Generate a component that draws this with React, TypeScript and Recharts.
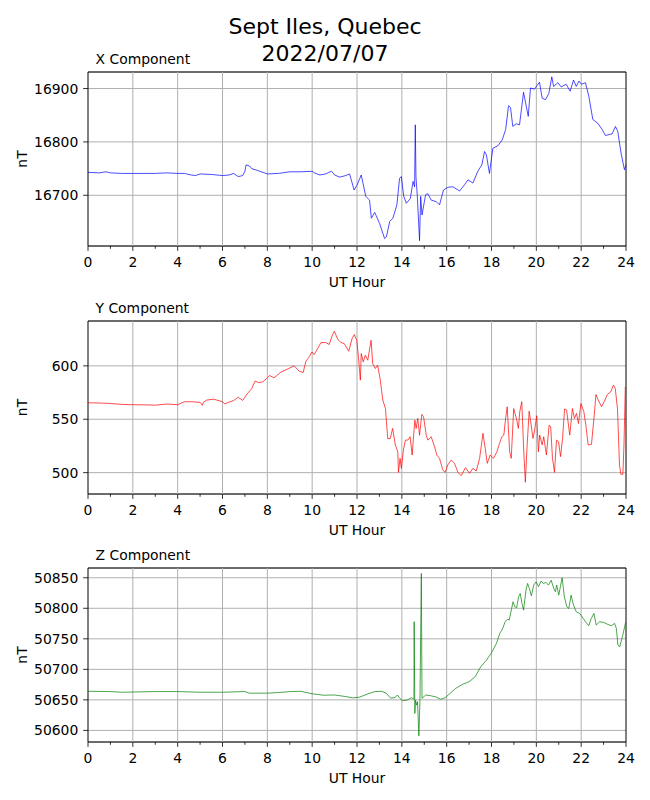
import React from 'react';
import { LineChart, Line, XAxis, YAxis, CartesianGrid, ReferenceArea, ReferenceLine } from 'recharts';

type Pair = [number, number];

// UT hour ticks (labels on even hours, minor ticks on odd hours)
const hourTicks = [0, 1, 2, 3, 4, 5, 6, 7, 8, 9, 10, 11, 12, 13, 14, 15, 16, 17, 18, 19, 20, 21, 22, 23, 24];
const gridHours = [2, 4, 6, 8, 10, 12, 14, 16, 18, 20, 22];

const xTicks = [16700, 16800, 16900];
const yTicks = [500, 550, 600];
const zTicks = [50600, 50650, 50700, 50750, 50800, 50850];

const xDomain = [16605, 16931];
const yDomain = [480, 642];
const zDomain = [50581, 50866];

// [UT hour, nT]
const xComponent: Pair[] = [
  [0, 16743], [0.5, 16742], [0.8, 16744], [1, 16742], [1.5, 16741], [2, 16741], [2.5, 16741], [3, 16741],
  [3.5, 16742], [4, 16741], [4.3, 16741], [4.6, 16738], [4.8, 16737], [5, 16740], [5.5, 16739], [6, 16737],
  [6.3, 16738], [6.5, 16741], [6.7, 16735], [6.9, 16737], [7.0, 16745], [7.05, 16757], [7.2, 16755], [7.3, 16750],
  [7.6, 16746], [8, 16740], [8.5, 16741], [9, 16744], [9.5, 16744], [10, 16745], [10.1, 16742], [10.34, 16738],
  [10.6, 16740], [10.86, 16745], [11.0, 16738], [11.23, 16734], [11.5, 16737], [11.67, 16740], [11.87, 16710],
  [12.0, 16719], [12.19, 16738], [12.39, 16698], [12.56, 16691], [12.64, 16657], [12.79, 16668], [13.01, 16647],
  [13.23, 16619], [13.31, 16622], [13.46, 16651], [13.6, 16657], [13.78, 16682], [13.9, 16732], [13.98, 16735],
  [14.08, 16699], [14.2, 16685], [14.38, 16694], [14.5, 16726], [14.57, 16716], [14.6, 16832], [14.63, 16735],
  [14.69, 16699], [14.79, 16615], [14.84, 16698], [14.9, 16663], [15.06, 16701], [15.16, 16703], [15.31, 16691],
  [15.54, 16688], [15.68, 16682], [15.86, 16710], [16.06, 16715], [16.28, 16716], [16.58, 16708], [16.8, 16720],
  [16.95, 16729], [17.17, 16723], [17.39, 16745], [17.57, 16757], [17.69, 16782], [17.77, 16776], [17.91, 16741],
  [18.06, 16788], [18.29, 16793], [18.48, 16804], [18.63, 16823], [18.76, 16868], [18.85, 16864], [18.95, 16829],
  [19.1, 16834], [19.25, 16832], [19.43, 16893], [19.55, 16867], [19.64, 16848], [19.74, 16901], [19.92, 16899],
  [20.14, 16912], [20.26, 16882], [20.41, 16879], [20.56, 16891], [20.69, 16922], [20.77, 16904], [20.96, 16911],
  [21.11, 16903], [21.33, 16908], [21.51, 16895], [21.66, 16916], [21.78, 16904], [21.9, 16914], [22.01, 16908],
  [22.19, 16911], [22.34, 16886], [22.52, 16842], [22.74, 16835], [22.94, 16823], [23.08, 16812], [23.26, 16814],
  [23.38, 16815], [23.53, 16829], [23.63, 16820], [23.78, 16779], [23.93, 16748], [24, 16757],
];

const yComponent: Pair[] = [
  [0, 565.4], [0.5, 565.2], [1, 564.8], [1.5, 563.9], [2, 563.6], [2.5, 563.5], [3, 563.2], [3.5, 564.2],
  [4, 563.6], [4.3, 566.4], [4.6, 566.4], [5.0, 565.8], [5.1, 563], [5.15, 566], [5.3, 568], [5.6, 568.8],
  [6, 566.4], [6.1, 564.5], [6.5, 567.6], [6.7, 570.7], [6.9, 567.6], [7.1, 573.8], [7.3, 578.5], [7.45, 585.7],
  [7.6, 584.4], [7.8, 585], [8, 588.8], [8.1, 591], [8.3, 588.8], [8.6, 594], [9, 598], [9.2, 600], [9.42, 595],
  [9.6, 593.8], [9.72, 604.4], [9.84, 607.5], [9.99, 613], [10.09, 610.6], [10.24, 616], [10.39, 621.8],
  [10.61, 621.8], [10.76, 620], [10.91, 629.3], [10.99, 632.4], [11.14, 625], [11.28, 621.8], [11.43, 620.9],
  [11.63, 613.7], [11.78, 625.5], [11.88, 629.3], [11.99, 624], [12.07, 606.9], [12.15, 586.6], [12.19, 611.5],
  [12.28, 603.7], [12.37, 610], [12.48, 605.3], [12.63, 624], [12.7, 602], [12.82, 597.5], [12.92, 600.6],
  [13.03, 588], [13.15, 568], [13.27, 560], [13.37, 532], [13.48, 532], [13.59, 541.4], [13.71, 525.9],
  [13.82, 519.6], [13.85, 500.3], [13.92, 513.4], [13.98, 504], [14.07, 521.2], [14.16, 530.5], [14.27, 530.5],
  [14.37, 533.6], [14.46, 516.5], [14.58, 549.2], [14.64, 541.4], [14.71, 550.8], [14.79, 535], [14.89, 554.5],
  [14.97, 552.3], [15.09, 535], [15.16, 530.5], [15.31, 533.6], [15.46, 524.3], [15.56, 516.5], [15.68, 513.4],
  [15.83, 502.5], [15.93, 500.3], [16.05, 507.2], [16.2, 511.8], [16.35, 508.7], [16.5, 500.3], [16.65, 497.2],
  [16.84, 504.7], [17.02, 499.4], [17.17, 504], [17.32, 501.6], [17.47, 513.4], [17.62, 536.8], [17.72, 522.7],
  [17.81, 508.7], [17.94, 516.5], [18.09, 513.4], [18.24, 519.6], [18.36, 527.4], [18.46, 533.6], [18.55, 535.2],
  [18.63, 550.8], [18.7, 561.7], [18.81, 519.6], [18.88, 513.4], [18.99, 560], [19.11, 550.8], [19.2, 541.4],
  [19.26, 557], [19.35, 566.4], [19.44, 519.6], [19.51, 491], [19.59, 525.9], [19.68, 557.6], [19.77, 544.5],
  [19.85, 532], [19.91, 538.3], [20.02, 553.3], [20.09, 519.6], [20.15, 535.2], [20.26, 525.9], [20.33, 533.6],
  [20.45, 516.5], [20.57, 544.5], [20.64, 543], [20.72, 513.4], [20.81, 500.3], [20.9, 530.5], [20.99, 529],
  [21.08, 515], [21.17, 532], [21.26, 559.5], [21.35, 558.6], [21.49, 535.2], [21.61, 560], [21.7, 550.8],
  [21.79, 555.5], [21.88, 546], [21.99, 564.8], [22.12, 557], [22.21, 544.5], [22.31, 525.9], [22.46, 526.5],
  [22.57, 550.8], [22.66, 573.2], [22.76, 568], [22.91, 561.7], [23.06, 568], [23.17, 573.2], [23.32, 575.7],
  [23.44, 582], [23.52, 579], [23.62, 560], [23.71, 507.2], [23.77, 498.4], [23.86, 498.4], [23.91, 525.9],
  [23.97, 580.4],
];

const zComponent: Pair[] = [
  [0, 50664], [1, 50663.6], [1.5, 50662.5], [3, 50663.6], [4, 50663.6], [5, 50662.5], [6, 50662.5], [7, 50663.6],
  [7.2, 50661], [8, 50661], [8.5, 50662], [9, 50663.6], [9.5, 50664], [10, 50660], [10.5, 50657.6], [11, 50658],
  [11.5, 50655.4], [11.8, 50653.3], [12.1, 50654.3], [12.5, 50660], [12.8, 50663.6], [13.1, 50664], [13.3, 50661],
  [13.5, 50652.7], [13.7, 50654], [13.8, 50658], [13.9, 50653], [14.04, 50648.6], [14.24, 50649.7],
  [14.43, 50653.5], [14.54, 50651], [14.55, 50778], [14.58, 50627.8], [14.61, 50649.7], [14.66, 50641.5],
  [14.7, 50647], [14.76, 50591], [14.81, 50652.4], [14.87, 50857], [14.9, 50652.4], [15.06, 50657.9],
  [15.28, 50656.8], [15.51, 50655], [15.73, 50651], [15.93, 50653.5], [16.1, 50659], [16.4, 50668.8],
  [16.7, 50675.3], [17.0, 50679.7], [17.27, 50687.9], [17.52, 50704.3], [17.78, 50715.2], [18.01, 50727.7],
  [18.22, 50742.5], [18.37, 50758.8], [18.49, 50766], [18.61, 50778], [18.72, 50782.3], [18.79, 50780.7],
  [18.9, 50799.8], [18.96, 50810.7], [19.04, 50802.5], [19.12, 50800.9], [19.21, 50818.9], [19.28, 50824.3],
  [19.36, 50808], [19.43, 50797], [19.54, 50829.8], [19.61, 50840.7], [19.69, 50832.5], [19.78, 50820.5],
  [19.88, 50838], [19.99, 50843.4], [20.1, 50835.3], [20.21, 50844.5], [20.31, 50840.7], [20.43, 50842.4],
  [20.54, 50838], [20.66, 50846], [20.78, 50832.5], [20.85, 50827], [20.91, 50838], [21.0, 50821.6],
  [21.15, 50850], [21.25, 50818.9], [21.36, 50802.5], [21.45, 50799.8], [21.55, 50821.6], [21.66, 50805.2],
  [21.78, 50794.3], [21.93, 50791.6], [22.04, 50786.1], [22.19, 50778], [22.34, 50771.4], [22.45, 50783.4],
  [22.57, 50791.6], [22.67, 50772.5], [22.82, 50778], [23.0, 50776.9], [23.19, 50773.6], [23.34, 50771.4],
  [23.49, 50775.2], [23.57, 50767], [23.64, 50739.7], [23.72, 50737], [23.84, 50753.4], [23.99, 50778],
];

const FONT = '"DejaVu Sans", sans-serif';
const FS = 13.9;

function HourTick(props: any) {
  const { x, y, payload } = props;
  const major = payload.value % 2 === 0;
  return (
    <g>
      <line x1={x} x2={x} y1={y} y2={y + (major ? 4.9 : 2.8)} stroke="#000" strokeWidth={0.8} />
      {major && (
        <text x={x} y={y + 21} textAnchor="middle" fontSize={FS} fontFamily={FONT} fill="#000">
          {payload.value}
        </text>
      )}
    </g>
  );
}

function ValueTick(props: any) {
  const { x, y, payload } = props;
  return (
    <g>
      <line x1={x - 4.9} x2={x} y1={y} y2={y} stroke="#000" strokeWidth={0.8} />
      <text x={x - 9.7} y={y + 5} textAnchor="end" fontSize={FS} fontFamily={FONT} fill="#000">
        {payload.value}
      </text>
    </g>
  );
}

function Panel({ top, height, plotTop, series, color, domain, ticks, title }: any) {
  const data = series.map(([h, v]: Pair) => ({ h, v }));
  return (
    <div style={{ position: 'absolute', left: 0, top, width: 650, height }}>
      <div
        style={{
          position: 'absolute', left: 95.5, top: plotTop - 8.5 - 12.9, fontFamily: FONT,
          fontSize: FS, lineHeight: '16.2px', whiteSpace: 'nowrap', color: '#000',
        }}
      >
        {title}
      </div>
      <LineChart width={650} height={height} data={data} margin={{ top: plotTop, right: 24, bottom: 0, left: 0 }}>
        <CartesianGrid vertical={false} stroke="#b0b0b0" strokeWidth={1} />
        {gridHours.map(h => (
          <ReferenceLine key={h} x={h} stroke="#b0b0b0" strokeWidth={1} />
        ))}
        <XAxis
          dataKey="h"
          type="number"
          domain={[0, 24]}
          ticks={hourTicks}
          interval={0}
          tickSize={0}
          tickMargin={0}
          tickLine={false}
          axisLine={false}
          height={44}
          tick={<HourTick />}
          label={{
            content: (p: any) => {
              const vb = p.viewBox || { x: 88, y: height - 44, width: 538 };
              return (
                <text x={vb.x + vb.width / 2} y={vb.y + 41} textAnchor="middle" fontSize={FS} fontFamily={FONT} fill="#000">
                  UT Hour
                </text>
              );
            },
          }}
        />
        <YAxis
          type="number"
          domain={domain}
          ticks={ticks}
          interval={0}
          tickSize={0}
          tickMargin={0}
          tickLine={false}
          axisLine={false}
          width={88}
          allowDataOverflow
          tick={<ValueTick />}
          label={{
            content: (p: any) => {
              const vb = p.viewBox || { y: plotTop, height: height - 44 - plotTop };
              const cy = vb.y + vb.height / 2;
              return (
                <text x={27} y={cy} transform={`rotate(-90 27 ${cy})`} textAnchor="middle" fontSize={FS} fontFamily={FONT} fill="#000">
                  nT
                </text>
              );
            },
          }}
        />
        <Line
          type="linear"
          dataKey="v"
          stroke={color}
          strokeWidth={0.7}
          dot={false}
          activeDot={false}
          isAnimationActive={false}
        />
        <ReferenceArea x1={0} x2={24} y1={domain[0]} y2={domain[1]} fill="none" stroke="#000" strokeWidth={1} />
      </LineChart>
    </div>
  );
}

export default function App() {
  return (
    <div style={{ position: 'absolute', left: 0, top: 0, width: 650, height: 800, background: '#fff' }}>
      <div
        style={{
          position: 'absolute', left: 0, top: 12.5, width: 650, textAlign: 'center',
          fontFamily: FONT, fontSize: 22, lineHeight: '27.7px', color: '#000',
        }}
      >
        <div>Sept Iles, Quebec</div>
        <div>2022/07/07</div>
      </div>
      <Panel top={0} height={290} plotTop={72} series={xComponent} color="#0000ff" domain={xDomain} ticks={xTicks} title="X Component" />
      <Panel top={290} height={248} plotTop={31} series={yComponent} color="#ff0000" domain={yDomain} ticks={yTicks} title="Y Component" />
      <Panel top={540} height={246} plotTop={28} series={zComponent} color="#008000" domain={zDomain} ticks={zTicks} title="Z Component" />
    </div>
  );
}
